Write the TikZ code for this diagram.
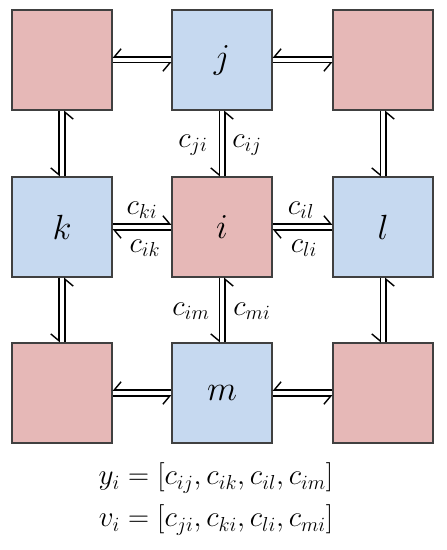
\documentclass[tikz,border=0pt]{standalone}
\usetikzlibrary{arrows.meta}
\colorlet{cell edge}{black!75}
\definecolor{red cell}{HTML}{E6B8B7}
\definecolor{blue cell}{HTML}{C6D9F0}
\def\pairsep{0.07}
\tikzset{cell/.style={draw=cell edge, line width=0.8pt, minimum size=2.5cm, inner sep=0pt,
        font=\fontsize{27}{30}\selectfont},
    redcell/.style={cell, fill=red cell},
    bluecell/.style={cell, fill=blue cell},
    harpR/.style={line width=1pt, -{Straight Barb[right, length=5pt, width=12pt]}},
    harpL/.style={line width=1pt, -{Straight Barb[left, length=5pt, width=12pt]}},
    lbl/.style={font=\fontsize{20}{24}\selectfont, inner sep=1pt}}

\begin{document}
\begin{tikzpicture}
    \useasboundingbox (0,0) rectangle (11.15,-13.75);
    % grid of cells
    \node[redcell]  (nw) at (1.55,-1.5)    {};
    \node[bluecell] (j)  at (5.55,-1.5)    {$j$};
    \node[redcell]  (ne) at (9.575,-1.5)   {};
    \node[bluecell] (k)  at (1.55,-5.675)  {$k$};
    \node[redcell]  (i)  at (5.55,-5.675)  {$i$};
    \node[bluecell] (l)  at (9.575,-5.675) {$l$};
    \node[redcell]  (sw) at (1.55,-9.825)  {};
    \node[bluecell] (m)  at (5.55,-9.825)  {$m$};
    \node[redcell]  (se) at (9.575,-9.825) {};
    % top and bottom rows
    \foreach \a/\b in {nw/j, j/ne, sw/m, m/se} {
        \draw[harpR] ([yshift=\pairsep cm]\b.west) -- ([yshift=\pairsep cm]\a.east);
        \draw[harpR] ([yshift=-\pairsep cm]\a.east) -- ([yshift=-\pairsep cm]\b.west);
    }
    % middle row
    \foreach \a/\b in {k/i, i/l} {
        \draw[harpL] ([yshift=\pairsep cm]\a.east) -- ([yshift=\pairsep cm]\b.west);
        \draw[harpL] ([yshift=-\pairsep cm]\b.west) -- ([yshift=-\pairsep cm]\a.east);
    }
    % columns
    \foreach \a/\b in {nw/k, k/sw, j/i, i/m, ne/l, l/se} {
        \draw[harpR] ([xshift=-\pairsep cm]\a.south) -- ([xshift=-\pairsep cm]\b.north);
        \draw[harpR] ([xshift=\pairsep cm]\b.north) -- ([xshift=\pairsep cm]\a.south);
    }
    \node[lbl] (cji) at (4.825,-3.625) {$c_{ji}$};
    \node[lbl] (cij) at (6.175,-3.625) {$c_{ij}$};
    \node[lbl] (cim) at (4.775,-7.775) {$c_{im}$};
    \node[lbl] (cmi) at (6.3,-7.775)   {$c_{mi}$};
    \node[lbl] (cki) at (3.55,-5.25)   {$c_{ki}$};
    \node[lbl] (cik) at (3.625,-6.2)   {$c_{ik}$};
    \node[lbl] (cil) at (7.525,-5.25)  {$c_{il}$};
    \node[lbl] (cli) at (7.6,-6.2)     {$c_{li}$};
    \node[lbl] (yvec) at (5.4,-11.95) {$y_i = \bigl[c_{ij}, c_{ik}, c_{il}, c_{im}\bigr]$};
    \node[lbl] (vvec) at (5.4,-13.0)  {$v_i = \bigl[c_{ji}, c_{ki}, c_{li}, c_{mi}\bigr]$};
\end{tikzpicture}
\end{document}
